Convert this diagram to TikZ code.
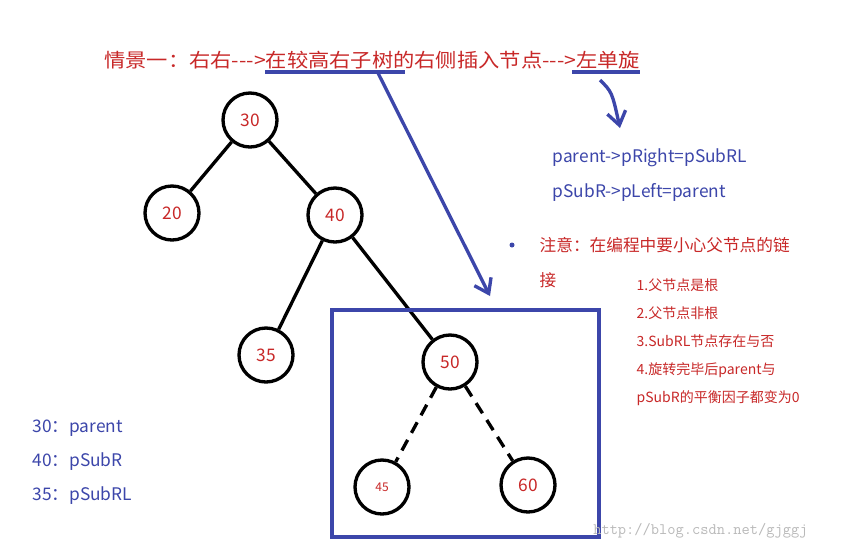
\documentclass[tikz,border=0pt]{standalone}
\usepackage{fontspec}
\setmainfont{Noto Sans CJK SC}
\usetikzlibrary{arrows.meta}
\definecolor{rd}{RGB}{200,40,40}
\definecolor{bl}{RGB}{60,70,170}
\tikzset{
 tn/.style={circle,draw=black,line width=2.5pt,minimum size=54\px,inner sep=0pt,text=rd,font=\fontsize{13}{13}\selectfont},
 ed/.style={line width=2.5pt},
 bt/.style={text=bl,anchor=west,font=\fontsize{13}{13}\selectfont},
 rt/.style={text=rd,anchor=west,font=\fontsize{10.5}{10.5}\selectfont},
}
\newdimen\px \px=0.75pt
\begin{document}
\begin{tikzpicture}[x=0.75pt,y=-0.75pt]
\useasboundingbox (0,0) rectangle (861,551);
\fill[white] (0,0) rectangle (861,551);
\node[anchor=west,text=rd,font=\fontsize{14.5}{14}\selectfont,inner sep=0,xscale=1.1] (title) at (104,60) {情景一：右右{-}{-}{-}>在较高右子树的右侧插入节点{-}{-}{-}>左单旋};
\coordinate (u1a) at (265,72); \coordinate (u1b) at (405,72);
\coordinate (u2a) at (572,72); \coordinate (u2b) at (640,72);
\draw[bl,line width=2.5pt] (u1a) -- (u1b);
\draw[bl,line width=2.5pt] (u2a) -- (u2b);
\coordinate (a1) at (378,73); \coordinate (a1e) at (490,296);
\draw[bl,line width=2.5pt,-{Straight Barb[length=10pt,width=14pt]}] (a1) -- (a1e);
\coordinate (a2) at (600,80); \coordinate (a2e) at (620,128);
\draw[bl,line width=2.5pt,-{Straight Barb[length=10pt,width=14pt]}] (a2) .. controls (612,92) .. (a2e);
\node[tn] (n30) at (250,120) {30};
\node[tn] (n20) at (172,213) {20};
\node[tn] (n40) at (335,215) {40};
\node[tn] (n35) at (266,355) {35};
\node[tn] (n50) at (450,362) {50};
\node[tn] (n45) at (382,487) {\small 45};
\node[tn] (n60) at (528,485) {60};
\draw[ed] (n30)--(n20); \draw[ed] (n30)--(n40);
\draw[ed] (n40)--(n35); \draw[ed] (n40)--(n50);
\draw[ed,dashed,dash pattern=on 9pt off 6pt] (n50)--(n45);
\draw[ed,dashed,dash pattern=on 9pt off 6pt] (n50)--(n60);
\node[draw=bl,line width=3pt,minimum width=267\px,minimum height=227\px,anchor=north west] (box) at (330,308) {};
\node[bt] (c1) at (548,158) {parent->pRight=pSubRL};
\node[bt] (c2) at (548,192) {pSubR->pLeft=parent};
\fill[bl] (512,245) circle (2.5);
\node[rt,font=\fontsize{12.5}{12.5}\selectfont] (z1) at (535,245) {注意：在编程中要小心父节点的链};
\node[rt,font=\fontsize{12.5}{12.5}\selectfont] (z2) at (535,280) {接};
\node[rt] (l1) at (632,285) {1.父节点是根};
\node[rt] (l2) at (632,313) {2.父节点非根};
\node[rt] (l3) at (632,341) {3.SubRL节点存在与否};
\node[rt] (l4) at (632,370) {4.旋转完毕后parent与};
\node[rt] (l5) at (632,398) {pSubR的平衡因子都变为0};
\node[bt] (k1) at (28,428) {30：parent};
\node[bt] (k2) at (28,462) {40：pSubR};
\node[bt] (k3) at (28,496) {35：pSubRL};
\node[anchor=west,text=gray!55,font=\ttfamily\fontsize{12}{12}\selectfont,inner sep=0] (wm) at (593,531) {http://blog.csdn.net/gjggj};
\end{tikzpicture}
\end{document}
